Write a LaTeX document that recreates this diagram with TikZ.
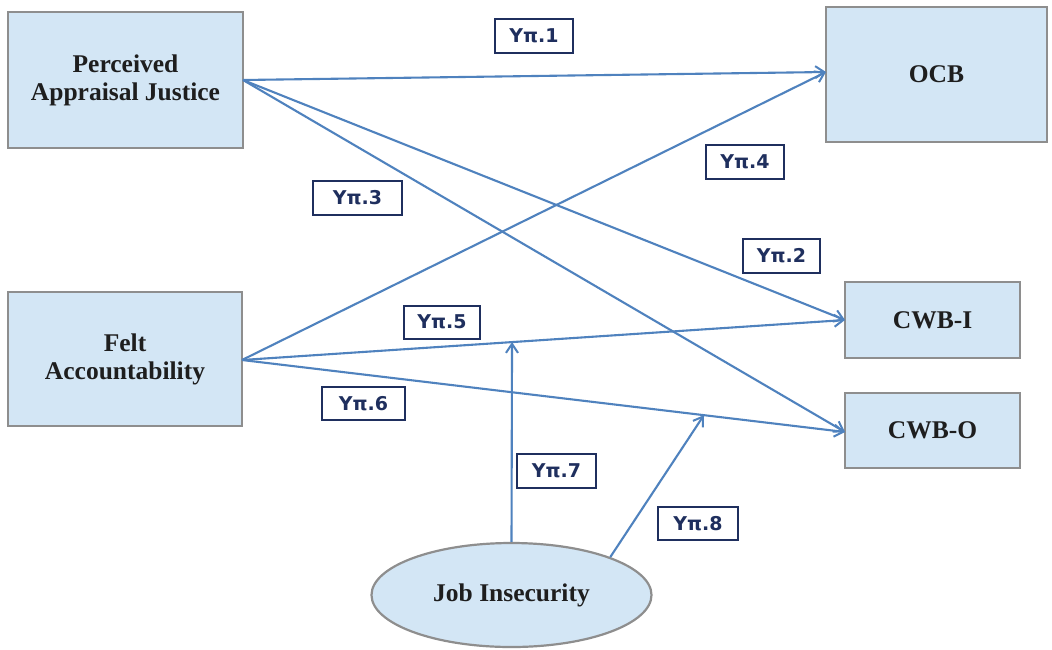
\documentclass[tikz,border=0pt]{standalone}
\usepackage{fontspec}
\setmainfont{Liberation Serif}
\newfontfamily\labfont{DejaVu Sans}
\usetikzlibrary{shapes.geometric,arrows.meta}
\definecolor{boxfill}{HTML}{D3E6F5}
\definecolor{boxline}{HTML}{8E8E8E}
\definecolor{arrowc}{HTML}{4F82BE}
\definecolor{navy}{HTML}{1F2F5E}
\definecolor{txt}{HTML}{1E1E1E}
\tikzset{
  var/.style={draw=boxline, line width=2.2pt, fill=boxfill, rectangle, align=center,
    inner sep=0pt, text=txt, font=\fontsize{25.5}{28}\selectfont\bfseries},
  lab/.style={draw=navy, line width=2pt, fill=white, rectangle, inner sep=0pt,
    text=navy, font=\labfont\fontsize{19}{20}\selectfont\bfseries},
  path/.style={draw=arrowc, line width=2.1pt, -{Straight Barb[length=9pt,width=12pt,line width=2pt]}},
}
\begin{document}
\begin{tikzpicture}[x=1pt,y=-1pt]
\useasboundingbox (0,0) rectangle (1052,649);
\fill[white] (0,0) rectangle (1052,649);
% variables
\node[var, minimum width=235, minimum height=136] (paj) at (125.5,80) {Perceived\\Appraisal Justice};
\node[var, minimum width=221, minimum height=135] (ocb) at (936.5,74.5) {OCB};
\node[var, minimum width=234, minimum height=134] (fa) at (125,359) {Felt\\Accountability};
\node[var, minimum width=175, minimum height=76] (cwbi) at (932.5,320) {CWB-I};
\node[var, minimum width=175, minimum height=75] (cwbo) at (932.5,430.5) {CWB-O};
\node[var, ellipse, minimum width=280, minimum height=104] (ji) at (511.5,595) {Job Insecurity};
% paths
\coordinate (pajo) at (243,80);
\coordinate (fao) at (242,360);
\coordinate (ocbin) at (826,72);
\coordinate (cwbiin) at (845,320);
\coordinate (cwboin) at (845,432);
\draw[path] (pajo) -- (ocbin);
\draw[path] (pajo) -- (cwbiin);
\draw[path] (pajo) -- (cwboin);
\draw[path] (fao) -- (ocbin);
\draw[path] (fao) -- (cwbiin);
\draw[path] (fao) -- (cwboin);
\path (fao) -- (cwbiin) coordinate[pos=0.4478] (m7);
\path (fao) -- (cwboin) coordinate[pos=0.766] (m8);
\draw[path] (ji.north) -- (m7);
\draw[path] (ji.21) -- (m8);
% labels
\node[lab, minimum width=78, minimum height=34] (l1) at (534,36) {Yπ.1};
\node[lab, minimum width=78, minimum height=34] (l4) at (745,162) {Yπ.4};
\node[lab, minimum width=89, minimum height=34] (l3) at (357.5,198) {Yπ.3};
\node[lab, minimum width=77, minimum height=34] (l2) at (781.5,256) {Yπ.2};
\node[lab, minimum width=76, minimum height=33] (l5) at (442,322) {Yπ.5};
\node[lab, minimum width=83, minimum height=33] (l6) at (363.5,403.5) {Yπ.6};
\node[lab, minimum width=79, minimum height=34] (l7) at (556.5,471) {Yπ.7};
\node[lab, minimum width=80, minimum height=33] (l8) at (698,523.5) {Yπ.8};
\end{tikzpicture}
\end{document}
